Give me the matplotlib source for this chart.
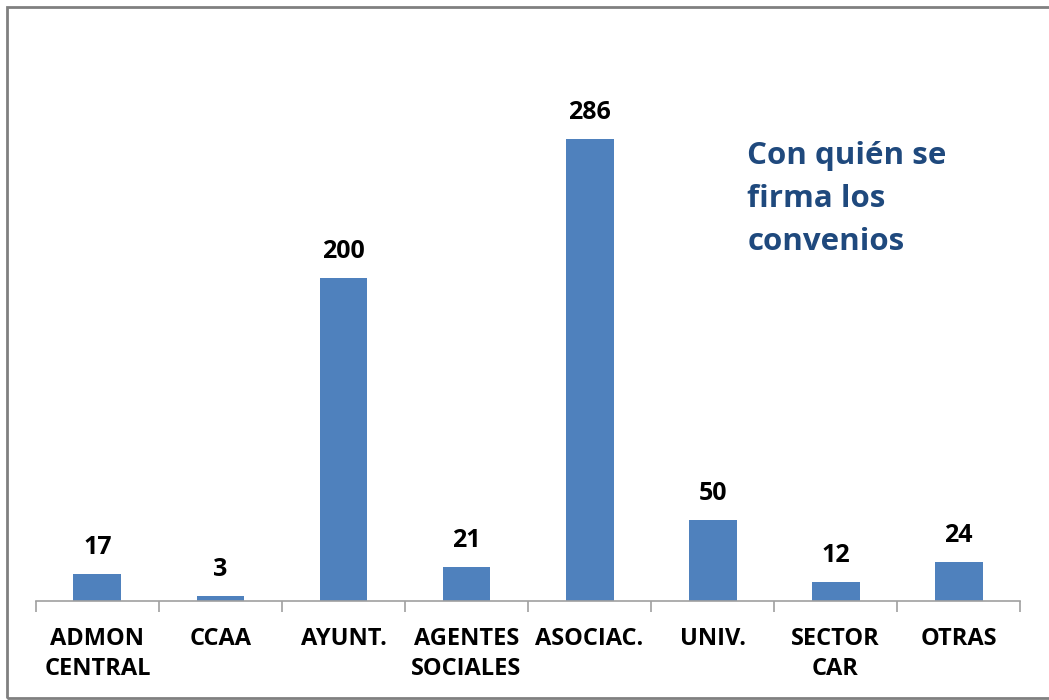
import matplotlib.pyplot as plt
from matplotlib.patches import Rectangle

categories = ["ADMON\nCENTRAL", "CCAA", "AYUNT.", "AGENTES\nSOCIALES",
              "ASOCIAC.", "UNIV.", "SECTOR\nCAR", "OTRAS"]
values = [17, 3, 200, 21, 286, 50, 12, 24]

plt.rcParams["font.family"] = ["Open Sans", "DejaVu Sans"]

fig = plt.figure(figsize=(10.49, 7.00), dpi=100)
ax = fig.add_axes([0.0343, 0.1414, 0.9381, 0.8072])

x = range(len(values))
bars = ax.bar(x, values, width=0.39, color="#4F81BD")

for b, v in zip(bars, values):
    ax.annotate(str(v), (b.get_x() + b.get_width() / 2, v), xytext=(0, 10),
                textcoords="offset points", ha="center", va="bottom",
                fontsize=18, fontweight="bold", color="black")

ax.set_xlim(-0.5, len(values) - 0.5)
ax.set_ylim(0, 350)
ax.set_yticks([])
for s in ["left", "right", "top"]:
    ax.spines[s].set_visible(False)
ax.spines["bottom"].set_color("#A0A0A0")
ax.spines["bottom"].set_linewidth(1.2)

# ticks sit between the categories, labels centred under the bars
ax.set_xticks([i - 0.5 for i in range(len(values) + 1)], minor=False)
ax.set_xticklabels([])
ax.tick_params(axis="x", which="major", length=8, color="#A0A0A0", width=1.2)
ax.set_xticks(list(x), minor=True)
ax.set_xticklabels(categories, minor=True, fontsize=17, fontweight="bold",
                   linespacing=1.3, va="top")
ax.tick_params(axis="x", which="minor", length=0, pad=19)

ax.text(0.723, 0.815, "Con quién se\nfirma los\nconvenios", transform=ax.transAxes,
        fontsize=22.5, fontweight="bold", color="#1F497D", va="top", ha="left",
        linespacing=1.58)

fig.patches.append(Rectangle((0.0067, 0.003), 1.2, 0.987, transform=fig.transFigure,
                             fill=False, edgecolor="#808080", linewidth=2))

fig.savefig("out.png", dpi=100)
